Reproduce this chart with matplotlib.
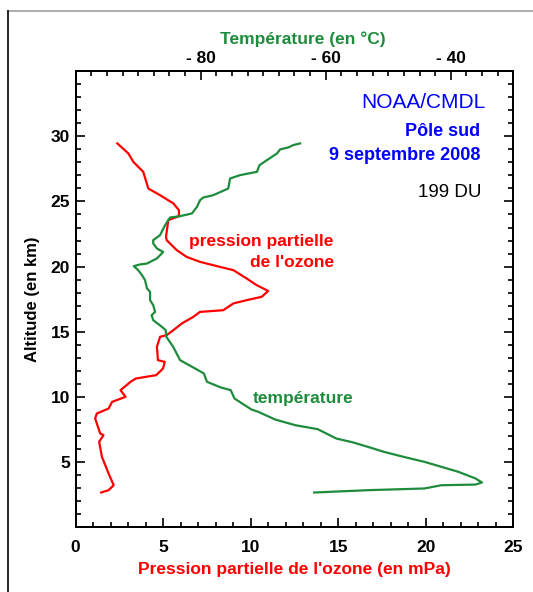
import matplotlib
matplotlib.use("Agg")
import matplotlib.pyplot as plt
from matplotlib.lines import Line2D
from matplotlib.ticker import MultipleLocator

plt.rcParams['font.family'] = ['Liberation Sans', 'DejaVu Sans']

# ozone partial pressure profile (mPa) vs altitude (km)
ozone_alt = [2.68, 2.86, 3.24, 4.14, 5.41, 6.57, 7.08, 7.21, 8.36, 8.74,
             9.12, 9.63, 10.02, 10.53, 11.17, 11.42, 11.68, 12.19, 12.7, 12.83,
             13.85, 14.62, 14.75, 15.13, 15.64, 16.15, 16.53, 16.66, 17.18, 17.43,
             17.69, 18.14, 18.58, 19.09, 19.73, 20.11, 20.37, 20.75, 21.27, 22.03,
             22.29, 23.57, 23.87, 24.33, 24.85, 25.48, 25.99, 27.27, 28.04, 28.68,
             29.45]
ozone_mpa = [1.46, 1.88, 2.17, 1.88, 1.50, 1.34, 1.59, 1.40, 1.11, 1.21,
             1.88, 2.08, 2.85, 2.56, 3.14, 3.43, 4.6, 4.99, 5.09, 4.70,
             4.64, 4.82, 5.2, 5.58, 6.06, 6.72, 7.10, 8.43, 9.01, 9.77,
             10.63, 11.0, 10.34, 9.77, 9.01, 7.86, 7.10, 6.34, 5.77, 5.2,
             5.16, 5.29, 5.90, 5.90, 5.58, 4.82, 4.15, 3.86, 3.29, 3.01,
             2.38]

# temperature profile (deg C) vs altitude (km)
temp_alt = [2.68, 2.86, 2.99, 3.24, 3.29, 3.45, 3.76, 4.27, 4.65, 5.03,
            5.41, 5.8, 6.13, 6.52, 6.82, 7.54, 7.84, 8.28, 8.87, 9.05,
            9.89, 10.53, 10.74, 11.17, 11.81, 12.19, 12.83, 13.85, 14.62, 15.13,
            15.38, 15.9, 16.28, 16.53, 17.05, 17.43, 18.07, 18.33, 18.96, 19.35,
            19.73, 20.04, 20.17, 20.24, 20.63, 21.13, 21.39, 21.78, 22.03, 22.42,
            23.18, 23.77, 23.87, 24.08, 24.59, 25.1, 25.3, 25.48, 25.99, 26.76,
            27.02, 27.27, 27.78, 28.17, 28.68, 28.99, 29.14, 29.32, 29.45]
temp_c = [-61.85, -53.2, -44.2, -41.5, -36.05, -35.0, -36.05, -38.8, -41.5, -44.2,
          -47.5, -50.7, -52.9, -55.6, -58.3, -61.3, -64.85, -68.1, -70.8, -71.9,
          -74.6, -75.2, -76.8, -79.0, -79.5, -80.9, -83.3, -84.4, -85.5, -85.6,
          -86.2, -87.6, -87.85, -87.3, -87.6, -88.1, -88.1, -88.6, -88.9, -89.4,
          -90.0, -90.7, -89.7, -88.6, -87.0, -86.0, -87.0, -87.6, -87.6, -86.5,
          -85.7, -84.9, -83.3, -81.4, -80.6, -80.1, -79.6, -78.0, -75.6, -75.3,
          -73.7, -71.0, -70.6, -69.4, -67.8, -67.3, -66.0, -65.2, -64.1]

alt_ticks = [5, 10, 15, 20, 25, 30]
temp_ticks = [-80, -60, -40]
temp_ticklabels = ['- 80', '- 60', '- 40']

red = '#ff0000'
green = '#1e8c3c'
blue = '#0000ff'

fig = plt.figure(figsize=(5.33, 5.92), dpi=100)
ax = fig.add_axes([0.142, 0.109, 0.821, 0.771])

ax.plot(ozone_mpa, ozone_alt, color=red, lw=1.6)
ax.set_xlim(0, 25)
ax.set_ylim(0, 35)
ax.xaxis.set_major_locator(MultipleLocator(5))
ax.xaxis.set_minor_locator(MultipleLocator(1))
ax.set_yticks(alt_ticks)
ax.yaxis.set_minor_locator(MultipleLocator(1))
ax.tick_params(which='both', direction='in', right=True, width=1.2)
ax.tick_params(which='major', length=6.5)
ax.tick_params(which='minor', length=3.5)
ax.tick_params(axis='x', pad=9)
ax.tick_params(axis='y', pad=4)
for lab in ax.get_xticklabels() + ax.get_yticklabels():
    lab.set_fontsize(12.5)
    lab.set_fontweight('bold')
ax.set_xlabel("Pression partielle de l'ozone (en mPa)", color=red,
              fontsize=12.5, fontweight='bold', labelpad=5)
ax.set_ylabel("Altitude (en km)", fontsize=12, fontweight='bold', labelpad=8)

ax2 = ax.twiny()
ax2.plot(temp_c, temp_alt, color=green, lw=1.6)
ax2.set_xlim(-100, -30)
ax2.set_xticks(temp_ticks)
ax2.set_xticklabels(temp_ticklabels)
ax2.xaxis.set_minor_locator(MultipleLocator(2.5))
ax2.tick_params(which='both', direction='in', width=1.2, pad=3.5)
ax2.tick_params(which='major', length=6.5)
ax2.tick_params(which='minor', length=3.5)
for lab in ax2.get_xticklabels():
    lab.set_fontsize(12.5)
    lab.set_fontweight('bold')
ax2.set_xlabel("Température (en °C)", color=green, fontsize=12.5,
               fontweight='bold', labelpad=5)
ax2.xaxis.label.set_x(0.52)

for a in (ax, ax2):
    for s in a.spines.values():
        s.set_linewidth(1.4)

ax.text(23.4, 32.55, "NOAA/CMDL", color=blue, fontsize=15, ha='right', va='center')
ax.text(23.1, 30.4, "Pôle sud", color=blue, fontsize=13, fontweight='bold',
        ha='right', va='center')
ax.text(23.1, 28.55, "9 septembre 2008", color=blue, fontsize=13, fontweight='bold',
        ha='right', va='center')
ax.text(23.2, 25.7, "199 DU", color='black', fontsize=13.5, ha='right', va='center')
ax.text(14.75, 21.95, "pression partielle", color=red, fontsize=12.5,
        fontweight='bold', ha='right', va='center')
ax.text(14.75, 20.35, "de l'ozone", color=red, fontsize=12.5,
        fontweight='bold', ha='right', va='center')
ax.text(13.0, 9.92, "température", color=green, fontsize=12.5,
        fontweight='bold', ha='center', va='center')

# outer frame of the original picture
W, H = 533, 592
fig.add_artist(Line2D([8 / W, 1], [1 - 11 / H, 1 - 11 / H], color='#a0a0a0', lw=1.2,
                      transform=fig.transFigure))
fig.add_artist(Line2D([8 / W, 8 / W], [1 - 11 / H, 0], color='black', lw=1.2,
                      transform=fig.transFigure))

fig.savefig("out.png", dpi=100)
